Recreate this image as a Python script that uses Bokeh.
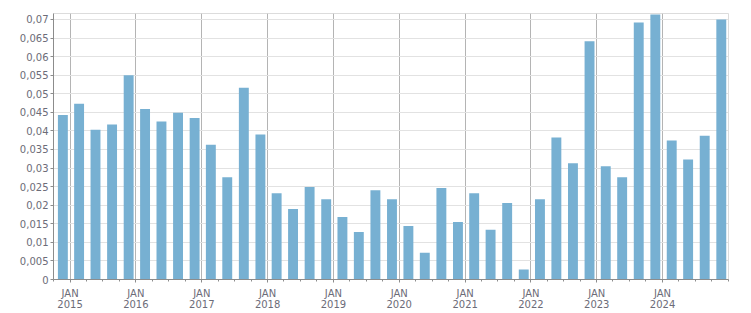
from datetime import datetime
import pandas as pd
from bokeh.plotting import figure
from bokeh.models import Range1d, FixedTicker, CustomJSTickFormatter, ColumnDataSource
from bokeh.embed import file_html
from bokeh.resources import INLINE

# quarter-end dates of each bar
quarters = [
    "2014-12-31", "2015-03-31", "2015-06-30", "2015-09-30", "2015-12-31",
    "2016-03-31", "2016-06-30", "2016-09-30", "2016-12-31",
    "2017-03-31", "2017-06-30", "2017-09-30", "2017-12-31",
    "2018-03-31", "2018-06-30", "2018-09-30", "2018-12-31",
    "2019-03-31", "2019-06-30", "2019-09-30", "2019-12-31",
    "2020-03-31", "2020-06-30", "2020-09-30", "2020-12-31",
    "2021-03-31", "2021-06-30", "2021-09-30", "2021-12-31",
    "2022-03-31", "2022-06-30", "2022-09-30", "2022-12-31",
    "2023-03-31", "2023-06-30", "2023-09-30", "2023-12-31",
    "2024-03-31", "2024-06-30", "2024-09-30", "2024-12-31",
]
values = [
    0.0443, 0.0473, 0.0403, 0.0417, 0.0550,
    0.0459, 0.0425, 0.0449, 0.0435,
    0.0363, 0.0275, 0.0516, 0.0390,
    0.0232, 0.0190, 0.0249, 0.0216,
    0.0168, 0.0128, 0.0240, 0.0216,
    0.0144, 0.0072, 0.0246, 0.0155,
    0.0232, 0.0134, 0.0206, 0.0027,
    0.0216, 0.0382, 0.0313, 0.0641,
    0.0305, 0.0275, 0.0692, 0.0713,
    0.0374, 0.0323, 0.0387, 0.0700,
]
year_ticks = [str(y) for y in range(2015, 2025)]
y_ticks = [round(i * 0.005, 3) for i in range(15)]

dates = pd.to_datetime(quarters)
centers = dates + pd.Timedelta(days=1) - pd.Timedelta(days=40)
src = ColumnDataSource(dict(x=centers, top=values))

p = figure(width=751, height=313, output_backend="svg", toolbar_location=None,
           x_axis_type="datetime",
           x_range=Range1d(datetime(2014, 10, 1), datetime(2025, 1, 1)),
           y_range=Range1d(0, 0.0716),
           min_border_left=53, min_border_right=23, min_border_top=13, min_border_bottom=32)
p.background_fill_color = "white"
p.border_fill_color = "white"
p.outline_line_color = "#dcdcdc"
p.outline_line_width = 1

p.vbar(x="x", top="top", bottom=0, width=55 * 24 * 3600 * 1000, source=src,
       fill_color="#77b0d2", line_color=None)

major_x = [pd.Timestamp(f"{y}-01-01").value // 10**6 for y in year_ticks]
minor_x = pd.date_range("2014-10-01", "2025-01-01", freq="QS").astype("int64") // 10**6
p.xaxis.ticker = FixedTicker(ticks=major_x, minor_ticks=list(minor_x))
p.xaxis.formatter = CustomJSTickFormatter(code="""
const d = new Date(tick);
return 'JAN\\n' + d.getUTCFullYear();
""")
p.yaxis.ticker = FixedTicker(ticks=y_ticks)
p.yaxis.formatter = CustomJSTickFormatter(code="""
let s = tick.toFixed(3).replace(/0+$/, '').replace(/\\.$/, '');
return s.replace('.', ',');
""")

for ax in (p.xaxis[0], p.yaxis[0]):
    ax.axis_line_color = "#8c8c8c"
    ax.major_tick_line_color = "#8c8c8c"
    ax.minor_tick_line_color = "#8c8c8c"
    ax.major_label_text_font = "DejaVu Sans"
    ax.major_label_text_font_size = "10px"
    ax.major_label_text_color = "#6c6c78"
    ax.major_tick_in = 0
    ax.minor_tick_in = 0

p.xaxis.major_tick_out = 3
p.xaxis.minor_tick_out = 2
p.xaxis.major_label_standoff = 5
p.xaxis.major_label_text_line_height = 1.05
p.yaxis.major_tick_out = 3
p.yaxis.minor_tick_line_color = None
p.yaxis.major_label_standoff = 2

p.xgrid.grid_line_color = "#b4b4b4"
p.xgrid.ticker = FixedTicker(ticks=major_x)
p.ygrid.grid_line_color = "#e2e2e2"
p.ygrid.ticker = FixedTicker(ticks=y_ticks)

open("out.html", "w").write(file_html(p, INLINE))
